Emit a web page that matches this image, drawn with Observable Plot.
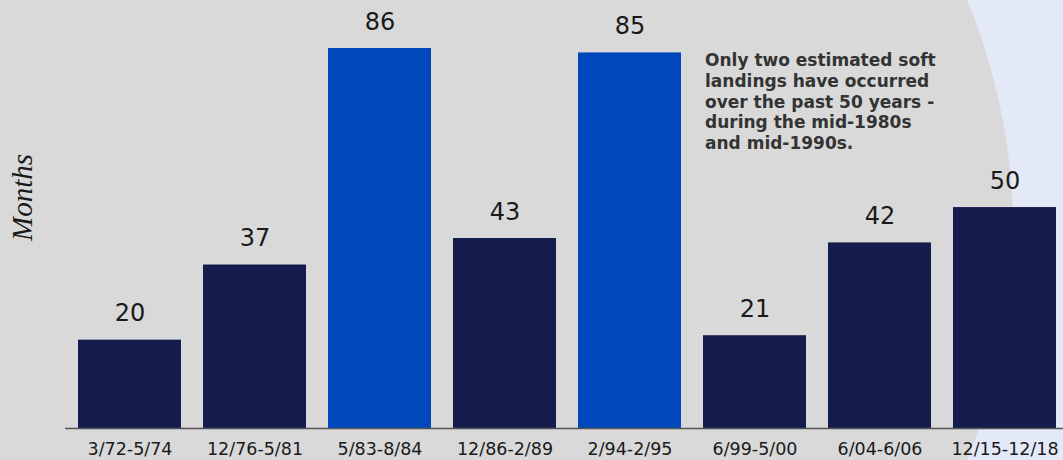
<!DOCTYPE html>
<html>
<head>
<meta charset="utf-8">
<script src="https://cdn.jsdelivr.net/npm/d3@7"></script>
<script src="https://cdn.jsdelivr.net/npm/@observablehq/plot@0.6"></script>
<style>
  html, body { margin: 0; padding: 0; overflow: hidden; }
  #wrap {
    width: 1063px; height: 460px; overflow: hidden;
    background: radial-gradient(circle 598px at 415px 230px, #d9d9d9 597.5px, #e3e9f7 598.5px);
  }
</style>
</head>
<body>
<div id="wrap"></div>
<script>
const periods = ["3/72-5/74", "12/76-5/81", "5/83-8/84", "12/86-2/89", "2/94-2/95", "6/99-5/00", "6/04-6/06", "12/15-12/18"];
const months = [20, 37, 86, 43, 85, 21, 42, 50];
const softLanding = [false, false, true, false, true, false, false, false];
const note = "Only two estimated soft\nlandings have occurred\nover the past 50 years -\nduring the mid-1980s\nand mid-1990s.";
const yTitle = "Months";

const data = periods.map((p, i) => ({period: p, months: months[i], soft: softLanding[i]}));

const sans = "'DejaVu Sans', sans-serif";

const chart = Plot.plot({
  width: 1063,
  height: 460,
  marginLeft: 65,
  marginRight: -6,
  marginTop: 48,
  marginBottom: 32,
  style: {background: "transparent", fontFamily: sans, overflow: "visible"},
  x: {domain: periods, paddingInner: 0.175, paddingOuter: 0.086, label: null},
  y: {domain: [0, 86], label: null, axis: null},
  color: {domain: [false, true], range: ["#141B4D", "#0047BB"]},
  marks: [
    Plot.barY(data, {x: "period", y: "months", fill: "soft"}),
    Plot.ruleY([0], {stroke: "#555555", strokeWidth: 1.5}),
    Plot.text(data, {x: "period", y: "months", text: d => String(d.months), dy: -26.5,
      fontSize: 24, fill: "#1a1a1a", fontWeight: 400, lineAnchor: "middle"}),
    Plot.axisX({tickSize: 0, tickPadding: 14, fontSize: 17.5, fontWeight: 400, color: "#1a1a1a", label: null}),
    Plot.text([note], {x: () => periods[5], frameAnchor: "top", dx: -50, dy: 3,
      textAnchor: "start", lineAnchor: "top", lineHeight: 1.22, fontSize: 17,
      fontWeight: 700, fill: "#333333"}),
    Plot.text([yTitle], {frameAnchor: "left", dx: -43, dy: 2.5, rotate: -90,
      fontFamily: "'Liberation Serif', serif", fontStyle: "italic", fontSize: 29, fill: "#1a1a1a"})
  ]
});
document.getElementById("wrap").appendChild(chart);
</script>
</body>
</html>
